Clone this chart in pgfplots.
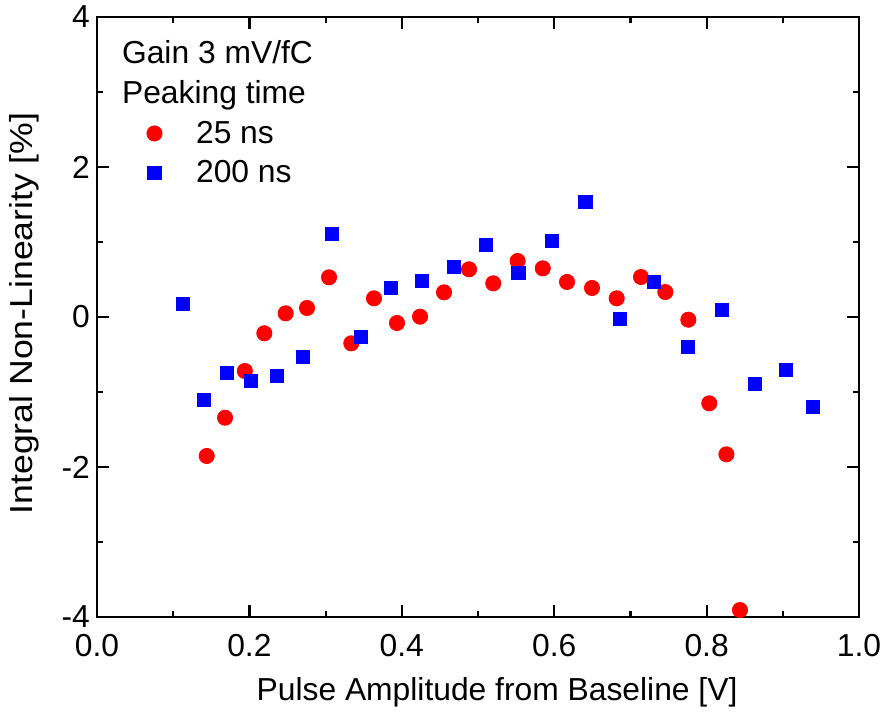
\documentclass[border=0pt]{standalone}
\usepackage{fontspec}
\setmainfont{Liberation Sans}
\usepackage{pgfplots}
\usepackage{pgfplotstable}
\pgfplotsset{compat=1.18}
\newcommand{\fs}{\fontsize{15.9}{19}\selectfont}
\pgfplotstableread{
x y
0.144 -1.853
0.168 -1.343
0.194 -0.720
0.2196 -0.217
0.2476 0.049
0.2756 0.120
0.3045 0.529
0.3337 -0.351
0.3635 0.249
0.3937 -0.080
0.4239 0.004
0.4554 0.329
0.4882 0.636
0.520 0.449
0.552 0.747
0.585 0.649
0.6168 0.467
0.6496 0.387
0.682 0.249
0.7139 0.533
0.7458 0.333
0.776 -0.036
0.8035 -1.151
0.826 -1.831
0.8438 -3.907
}\redtab
\pgfplotstableread{
x y
0.1125 0.173
0.140 -1.110
0.170 -0.743
0.2017 -0.853
0.2358 -0.790
0.2707 -0.530
0.308 1.103
0.3465 -0.263
0.3858 0.390
0.426 0.476
0.468 0.670
0.510 0.956
0.553 0.587
0.5967 1.013
0.641 1.530
0.686 -0.027
0.7306 0.470
0.775 -0.400
0.820 0.093
0.863 -0.893
0.904 -0.707
0.939 -1.204
}\bluetab
\begin{document}
\begin{tikzpicture}
\begin{axis}[
  scale only axis, width=381pt, height=300pt,
  xmin=0, xmax=1, ymin=-4, ymax=4,
  xtick={0,0.2,0.4,0.6,0.8,1},
  xticklabels={0.0,0.2,0.4,0.6,0.8,1.0},
  ytick={-4,-2,0,2,4},
  yticklabels={-4,-2,0,2,4},
  minor x tick num=1, minor y tick num=1,
  tick align=inside, major tick length=6pt, minor tick length=3pt,
  axis line style={line width=1.3pt},
  every tick/.style={black, line width=1.1pt},
  tick label style={font=\fs},
  label style={font=\fs},
  xticklabel style={yshift=-5pt},
  xlabel={Pulse Amplitude from Baseline [V]},
  ylabel={Integral Non-Linearity [\%]},
  xlabel style={at={(axis description cs:0.525,-0.125)}, anchor=center},
  ylabel style={at={(axis description cs:-0.0955,0.506)}, anchor=center, xscale=1.12},
  legend cell align=left,
  legend style={at={(axis description cs:0,1)}, anchor=north west, xshift=17pt, yshift=-7.7pt,
    draw=none, fill=none, font=\fs, column sep=15pt, row sep=3pt},
  clip=false,
]
\addlegendimage{empty legend}
\addlegendentry{\hspace{-37pt}Gain 3 mV/fC}
\addlegendimage{empty legend}
\addlegendentry{\hspace{-37pt}Peaking time}
\addplot[only marks, mark=*, mark size=3.8pt, draw=red, fill=red, mark options={draw=red, fill=red}] table[x=x,y=y]{\redtab};
\addlegendentry{25 ns}
\addplot[only marks, mark=square*, mark size=3.3pt, draw=blue, fill=blue, mark options={draw=blue, fill=blue}] table[x=x,y=y]{\bluetab};
\addlegendentry{200 ns}
\end{axis}
\pgfresetboundingbox
\path (current axis.south west) ++(-48.5pt,-47.5pt) coordinate (bbA);
\path (current axis.north east) ++(12pt,8.5pt) coordinate (bbB);
\useasboundingbox (bbA) rectangle (bbB);
\end{tikzpicture}
\end{document}
